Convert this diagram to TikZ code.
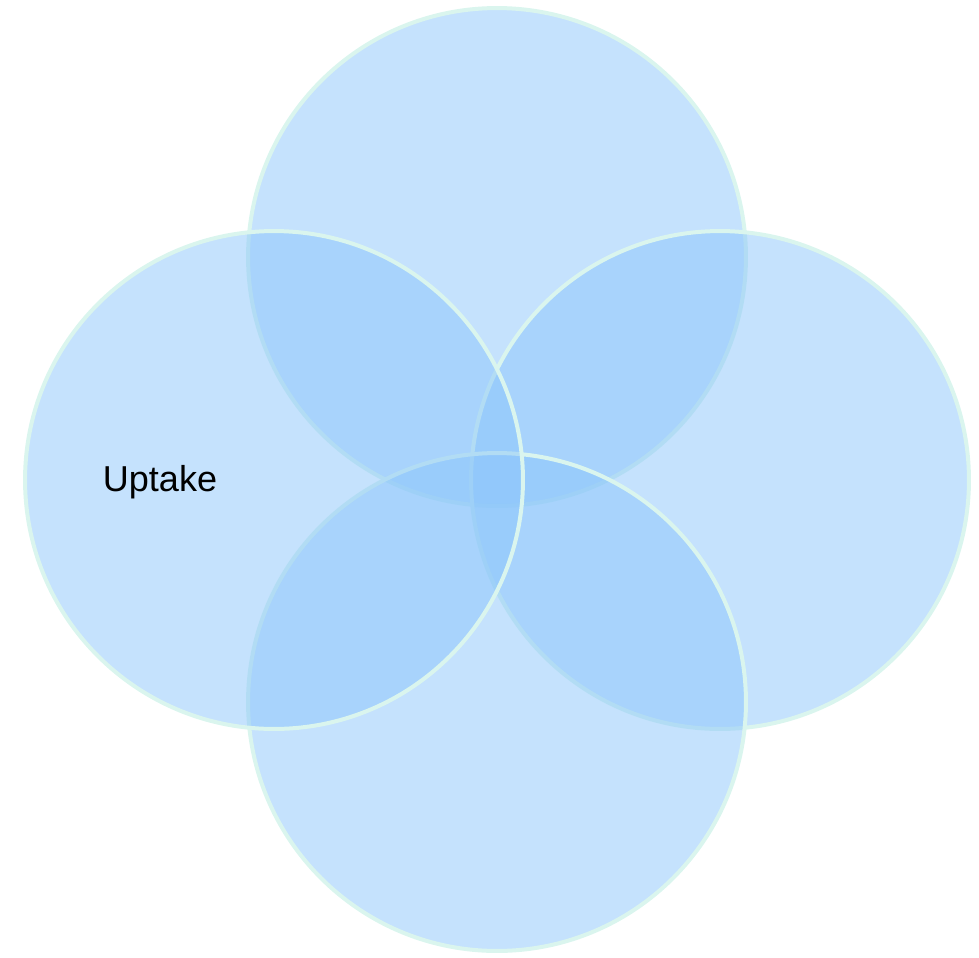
\documentclass[tikz,border=0pt]{standalone}
\usepackage{fontspec}
\setmainfont{Liberation Sans}
\usetikzlibrary{positioning}
\definecolor{petal}{RGB}{139,197,251}
\definecolor{rim}{RGB}{218,245,238}
\tikzstyle{set} = [circle, minimum size=9.96cm, inner sep=0pt, line width=0.08cm, draw=rim, fill=petal, fill opacity=0.5, draw opacity=1]
\tikzstyle{caption} = [text=black, font=\fontsize{20.5}{24}\selectfont]

\begin{document}
\begin{tikzpicture}[x=0.02cm, y=-0.02cm]
    \useasboundingbox (0,0) rectangle (979,957);
    \node (top) [set] at (497,257) {};
    \node (right) [set] at (720,480) {};
    \node (bottom) [set] at (497,702) {};
    \node (left) [set] at (274,480) {};
    \node (uptake) [caption] at (160,482) {Uptake};
\end{tikzpicture}
\end{document}
